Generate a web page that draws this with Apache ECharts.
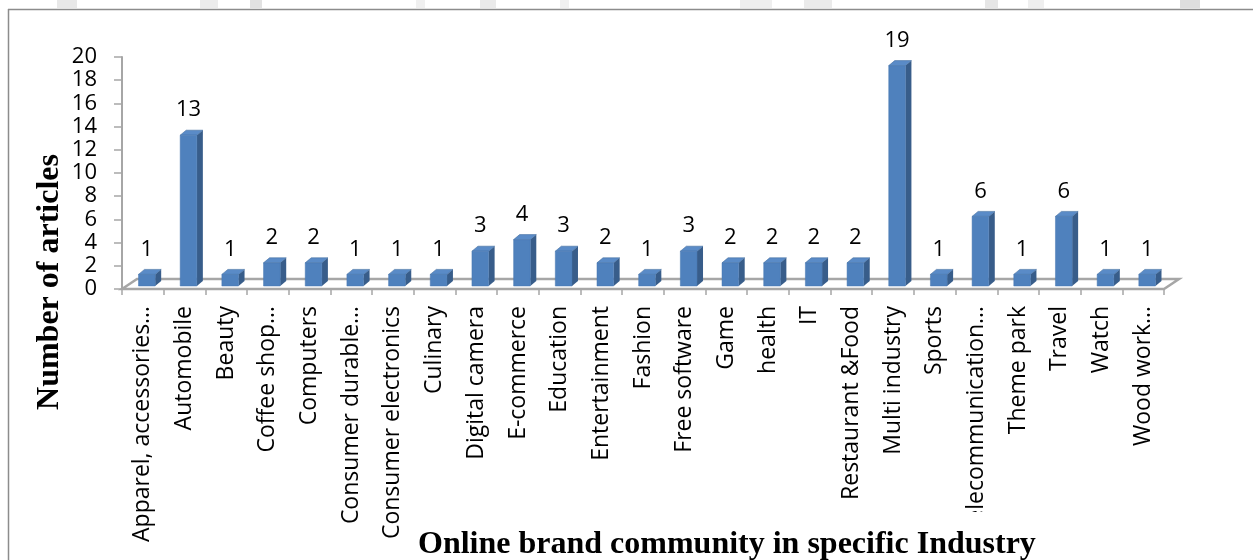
<!DOCTYPE html>
<html>
<head>
<meta charset="utf-8">
<title>Online brand community in specific Industry</title>
<script src="https://cdn.jsdelivr.net/npm/echarts@6/dist/echarts.min.js"></script>
<style>
  html, body { margin: 0; padding: 0; background: #ffffff; }
  #chart { width: 1253px; height: 560px; }
</style>
</head>
<body>
<div id="chart"></div>
<script>
// Industries covered by the online brand community articles
const industries = [
  'Apparel, accessories…', 'Automobile', 'Beauty', 'Coffee shop…', 'Computers',
  'Consumer durable…', 'Consumer electronics', 'Culinary', 'Digital camera', 'E-commerce',
  'Education', 'Entertainment', 'Fashion', 'Free software', 'Game',
  'health', 'IT', 'Restaurant &Food', 'Multi industry', 'Sports',
  'Telecommunication…', 'Theme park', 'Travel', 'Watch', 'Wood work…'
];

// Number of articles per industry
const articleCounts = [
  1, 13, 1, 2, 2,
  1, 1, 1, 3, 4,
  3, 2, 1, 3, 2,
  2, 2, 2, 19, 1,
  6, 1, 6, 1, 1
];

// Vertical axis ticks
const yTicks = [0, 2, 4, 6, 8, 10, 12, 14, 16, 18, 20];

const chart = echarts.init(document.getElementById('chart'));

// Pseudo-3D column look: front face, darker side face, lighter top face
const FRONT = '#4f81bd';
const SIDE = '#385d8a';
const TOP = '#5a8bc7';
const DEPTH_X = 6;
const DEPTH_Y = -5;
const SHIFT_X = 4;   // columns sit a little back on the floor
const SHIFT_Y = -3;

function renderColumn(params, api) {
  const idx = api.value(0);
  const val = api.value(1);
  const base = api.coord([idx, 0]);
  const top = api.coord([idx, val]);
  const band = api.size([1, 0])[0];
  const w = band * 0.4;
  const x0 = base[0] + SHIFT_X - w / 2;
  const x1 = x0 + w;
  const yb = base[1] + SHIFT_Y;
  const yt = top[1] + SHIFT_Y;
  return {
    type: 'group',
    children: [
      {
        type: 'polygon',
        shape: { points: [[x1, yb], [x1 + DEPTH_X, yb + DEPTH_Y], [x1 + DEPTH_X, yt + DEPTH_Y], [x1, yt]] },
        style: { fill: SIDE }
      },
      {
        type: 'polygon',
        shape: { points: [[x0, yt], [x0 + DEPTH_X, yt + DEPTH_Y], [x1 + DEPTH_X, yt + DEPTH_Y], [x1, yt]] },
        style: { fill: TOP, stroke: '#456f9f', lineWidth: 0.6 }
      },
      {
        type: 'rect',
        shape: { x: x0, y: yt, width: w, height: yb - yt },
        style: { fill: FRONT, stroke: '#4677b0', lineWidth: 0.5 }
      },
      {
        type: 'text',
        style: {
          text: String(val),
          x: (x0 + x1) / 2,
          y: yt + DEPTH_Y - 9,
          align: 'center',
          verticalAlign: 'bottom',
          fill: '#000000',
          font: '22px "Open Sans"'
        }
      }
    ]
  };
}

// Floor plane under the columns
function renderFloor(params, api) {
  const band = api.size([1, 0])[0];
  const c = api.coord([0, 0]);
  const left = c[0] - band / 2;
  const right = left + band * industries.length;
  const y = c[1];
  return {
    type: 'polygon',
    shape: { points: [[left, y], [left + 15, y - 10], [right + 15, y - 10], [right, y]] },
    style: { fill: '#ffffff', stroke: '#a6a6a6', lineWidth: 2.5 }
  };
}

const option = {
  animation: false,
  backgroundColor: '#ffffff',
  grid: { left: 122, right: 89, top: 57, bottom: 271, containLabel: false },
  title: {
    text: 'Online brand community in specific Industry',
    left: 410,
    top: 512,
    z: 10,
    padding: [17, 8, 4, 8],
    backgroundColor: '#ffffff',
    textStyle: {
      fontFamily: '"Liberation Serif", "Times New Roman", serif',
      fontWeight: 'bold',
      fontSize: 32,
      lineHeight: 32,
      color: '#000000'
    }
  },
  xAxis: {
    type: 'category',
    data: industries,
    axisLine: { show: true, lineStyle: { color: '#a6a6a6', width: 2 } },
    axisTick: { show: true, length: 6, lineStyle: { color: '#a6a6a6', width: 1.5 } },
    axisLabel: {
      interval: 0,
      rotate: 90,
      margin: 17,
      color: '#000000',
      fontFamily: '"Open Sans", sans-serif',
      fontSize: 23
    },
    splitLine: { show: false }
  },
  yAxis: {
    type: 'value',
    min: yTicks[0],
    max: yTicks[yTicks.length - 1],
    interval: yTicks[1] - yTicks[0],
    axisLine: { show: true, lineStyle: { color: '#a6a6a6', width: 2 } },
    axisTick: { show: true, length: 8, lineStyle: { color: '#a6a6a6', width: 1.5 } },
    axisLabel: {
      margin: 25,
      color: '#000000',
      fontFamily: '"Open Sans", sans-serif',
      fontSize: 22
    },
    splitLine: { show: false }
  },
  graphic: [
    // chart frame (top and left edges)
    { type: 'line', shape: { x1: 8, y1: 9.5, x2: 1253, y2: 9.5 }, style: { stroke: '#8c8c8c', lineWidth: 1.5 }, silent: true },
    { type: 'line', shape: { x1: 8.5, y1: 9, x2: 8.5, y2: 560 }, style: { stroke: '#8c8c8c', lineWidth: 1.5 }, silent: true },
    // faint page strip above the frame
    { type: 'rect', shape: { x: 57, y: 0, width: 20, height: 8 }, style: { fill: '#e8e8e8' }, silent: true },
    { type: 'rect', shape: { x: 200, y: 0, width: 18, height: 8 }, style: { fill: '#ececec' }, silent: true },
    { type: 'rect', shape: { x: 250, y: 0, width: 12, height: 8 }, style: { fill: '#e2e2e2' }, silent: true },
    { type: 'rect', shape: { x: 416, y: 0, width: 9, height: 8 }, style: { fill: '#f0f0f0' }, silent: true },
    { type: 'rect', shape: { x: 480, y: 0, width: 16, height: 8 }, style: { fill: '#eaeaea' }, silent: true },
    { type: 'rect', shape: { x: 560, y: 0, width: 9, height: 8 }, style: { fill: '#f0f0f0' }, silent: true },
    { type: 'rect', shape: { x: 740, y: 0, width: 32, height: 8 }, style: { fill: '#efefef' }, silent: true },
    { type: 'rect', shape: { x: 804, y: 0, width: 28, height: 8 }, style: { fill: '#ebebeb' }, silent: true },
    { type: 'rect', shape: { x: 985, y: 0, width: 13, height: 8 }, style: { fill: '#e6e6e6' }, silent: true },
    { type: 'rect', shape: { x: 1028, y: 0, width: 16, height: 8 }, style: { fill: '#efefef' }, silent: true },
    { type: 'rect', shape: { x: 1180, y: 0, width: 20, height: 8 }, style: { fill: '#dedede' }, silent: true },
    // vertical axis title
    {
      type: 'text',
      x: 50,
      y: 282,
      rotation: Math.PI / 2,
      silent: true,
      style: {
        text: 'Number of articles',
        align: 'center',
        verticalAlign: 'middle',
        fill: '#000000',
        font: 'bold 32px "Liberation Serif", "Times New Roman", serif'
      }
    }
  ],
  series: [
    {
      type: 'custom',
      name: 'floor',
      renderItem: renderFloor,
      data: [[0, 0]],
      clip: false,
      silent: true,
      z: 1
    },
    {
      type: 'custom',
      name: 'Number of articles',
      renderItem: renderColumn,
      encode: { x: 0, y: 1 },
      data: articleCounts.map((v, i) => [i, v]),
      clip: false,
      z: 3
    }
  ]
};

chart.setOption(option);
</script>
</body>
</html>
